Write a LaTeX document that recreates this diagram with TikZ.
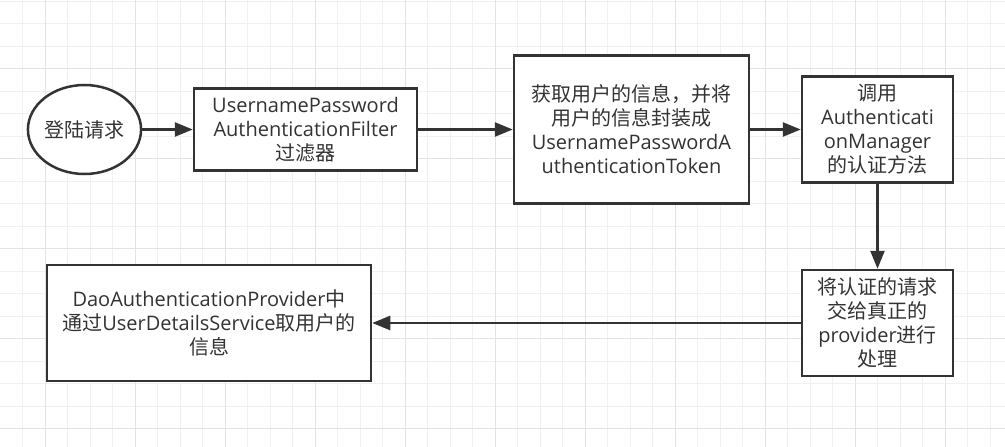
\documentclass[tikz,border=0pt]{standalone}
\usepackage{fontspec}
\setmainfont{Open Sans}
\newfontfamily\cjk{Noto Sans CJK SC}
\usetikzlibrary{arrows.meta,shapes.geometric}
\definecolor{ink}{HTML}{333333}
\definecolor{gminor}{HTML}{F1F1F1}
\definecolor{gmajor}{HTML}{E3E3E3}
\begin{document}
\begin{tikzpicture}[x=1pt,y=-1pt,
  box/.style={draw=ink, line width=2.5pt, fill=white, text=ink, align=center,
    inner sep=0pt, font=\fontsize{20}{24}\selectfont},
  conn/.style={draw=ink, line width=2.5pt, -{Triangle[length=18pt,width=14pt]}},
  gridminor/.style={draw=gminor, line width=1pt},
  gridmajor/.style={draw=gmajor, line width=1pt}]
\useasboundingbox (0,0) rectangle (1005,447);
\fill[white] (0,0) rectangle (1005,447);
% grid
\foreach \i in {1,...,44} \draw[gridminor] (\i*22.5,0) -- (\i*22.5,447);
\foreach \j in {0,...,19} \draw[gridminor] (0,1+\j*22.5) -- (1005,1+\j*22.5);
\foreach \i in {0,...,10} \draw[gridmajor] (45+\i*90,0) -- (45+\i*90,447);
\foreach \j in {0,...,4} \draw[gridmajor] (0,68.5+\j*90) -- (1005,68.5+\j*90);
% nodes
\node[box, ellipse, minimum width=111pt, minimum height=89pt] (ell) at (84.5,129.5) {\cjk 登陆请求};
\node[box, minimum width=223pt, minimum height=82pt] (b1) at (305.5,129.5)
  {UsernamePassword\\AuthenticationFilter\\{\cjk 过滤器}};
\node[box, minimum width=235pt, minimum height=148pt] (b2) at (631.5,129.5)
  {{\cjk 获取用户的信息，并将}\\{\cjk 用户的信息封装成}\\UsernamePasswordA\\uthenticationToken};
\node[box, minimum width=151pt, minimum height=106pt] (b3) at (877.5,129.5)
  {{\cjk 调用}\\Authenticati\\onManager\\{\cjk 的认证方法}};
\node[box, minimum width=151pt, minimum height=106pt] (b4) at (877.5,323)
  {{\cjk 将认证的请求}\\{\cjk 交给真正的}\\provider{\cjk 进行}\\{\cjk 处理}};
\node[box, minimum width=324pt, minimum height=116pt] (b5) at (209,323)
  {DaoAuthenticationProvider{\cjk 中}\\{\cjk 通过}UserDetailsService{\cjk 取用户的}\\{\cjk 信息}};
% connectors
\draw[conn] (ell) -- (b1);
\draw[conn] (b1) -- (b2);
\draw[conn] (b2) -- (b3);
\draw[conn] (b3) -- (b4);
\draw[conn] (b4) -- (b5);
\end{tikzpicture}
\end{document}
